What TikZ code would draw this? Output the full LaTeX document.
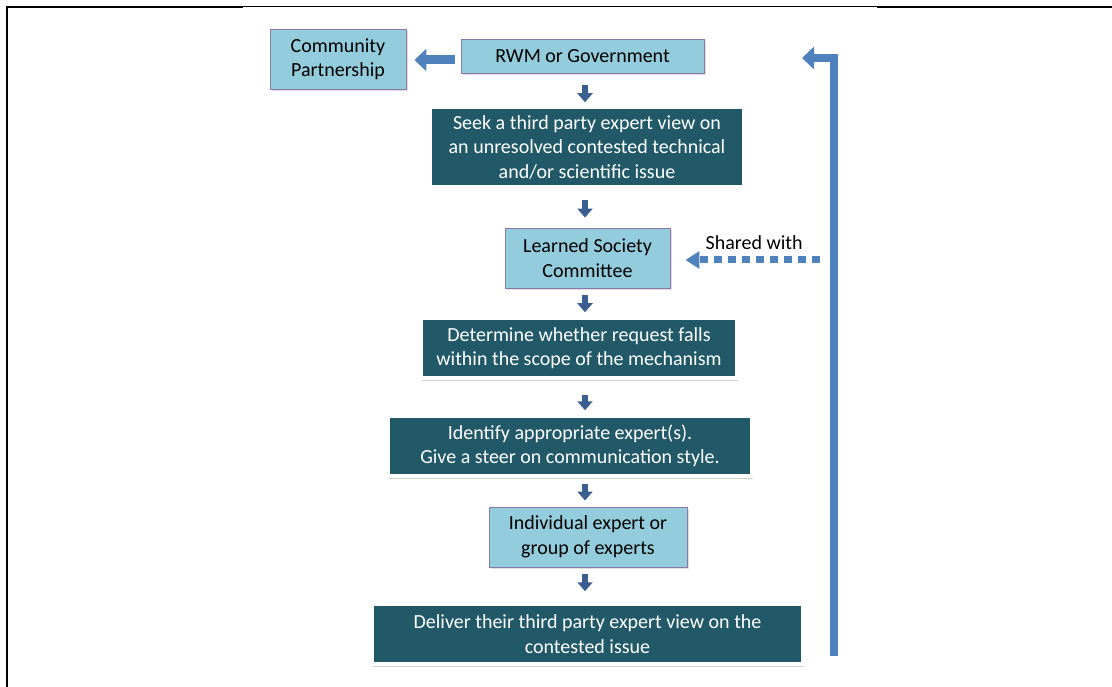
\documentclass[tikz,border=0pt]{standalone}
\usepackage{fontspec}
\setmainfont{Carlito}
\usetikzlibrary{arrows.meta,shadows}
\definecolor{paleblue}{HTML}{93CDDD}
\definecolor{boxedge}{HTML}{8A78A8}
\definecolor{deepteal}{HTML}{215968}
\definecolor{fatblue}{HTML}{4F81BD}
\definecolor{stepblue}{HTML}{3B5E91}
\tikzstyle{lightbox}=[rectangle,draw=boxedge,line width=0.9pt,fill=paleblue,align=center,
  drop shadow={shadow xshift=1.5pt,shadow yshift=-2pt,opacity=0.25}]
\tikzstyle{darkbox}=[rectangle,draw=white,line width=3.5pt,fill=deepteal,text=white,align=center,
  drop shadow={shadow xshift=1pt,shadow yshift=-2.5pt,opacity=0.35}]
\tikzstyle{downarrow}=[draw=stepblue,line width=6pt,-{Triangle[length=9pt,width=15pt]}]
\tikzstyle{fatarrow}=[draw=fatblue,line width=8pt,-{Triangle[length=12pt,width=22pt]}]

\begin{document}
\begin{tikzpicture}[x=1pt,y=-1pt,inner sep=3pt,font=\fontsize{20}{24.5}\selectfont]
  \useasboundingbox (0,0) rectangle (1112,687);
  % frame of the table cell
  \draw [line width=2.5pt] (6,7) -- (243,7);
  \draw [line width=1pt] (243,7) -- (877,7);
  \draw [line width=2.5pt] (877,7) -- (1112,7);
  \draw [line width=2.5pt] (7,6) -- (7,687);

  \node [lightbox, minimum width=136pt, minimum height=60pt] (comm) at (338,59) {Community\\Partnership};
  \node [lightbox, minimum width=243pt, minimum height=34pt] (rwm) at (582.5,56) {RWM or Government};
  \node [darkbox, minimum width=314pt, minimum height=80pt] (seek) at (587,147)
    {Seek a third party expert view on\\an unresolved contested technical\\and/or scientific issue};
  \node [lightbox, minimum width=165pt, minimum height=60pt] (lsc) at (587.5,258) {Learned Society\\Committee};
  \node [darkbox, minimum width=316pt, minimum height=60pt] (det) at (579,348)
    {Determine whether request falls\\within the scope of the mechanism};
  \node [darkbox, minimum width=364pt, minimum height=60pt] (ident) at (570,446)
    {Identify appropriate expert(s).\\Give a steer on communication style.};
  \node [lightbox, minimum width=198pt, minimum height=60pt] (indiv) at (588,537) {Individual expert or\\group of experts};
  \node [darkbox, minimum width=431pt, minimum height=60pt] (deliver) at (587.5,634)
    {Deliver their third party expert view on the\\contested issue};

  % the small arrows down the middle
  \coordinate (axis) at (585,0);
  \foreach \a/\b/\s/\e in {rwm/seek/12/3, seek/lsc/11/10, lsc/det/7/4, det/ident/15/4, ident/indiv/6/6, indiv/deliver/7/11}
    \draw [downarrow, shorten <=\s pt, shorten >=\e pt] (\a.south -| axis) -- (\b.north -| axis);

  \draw [fatarrow, line width=9pt, shorten <=6pt, shorten >=8pt] ([yshift=-4pt]rwm.west) -- ([yshift=-4pt]rwm.west -| comm.east);

  \coordinate (sharedfoot) at (820,260);
  \draw [draw=fatblue, line width=7pt, dash pattern=on 8pt off 6pt, -{Triangle[length=14pt,width=17pt]}, shorten >=15pt]
    (sharedfoot) -- (sharedfoot -| lsc.east) node [pos=0.44, above=4pt, text=black] (shared) {Shared with};

  \coordinate (loopfoot) at (834,656);
  \coordinate (loopend) at (802,58);
  \draw [fatarrow] (loopfoot) |- (loopend);
\end{tikzpicture}
\end{document}
